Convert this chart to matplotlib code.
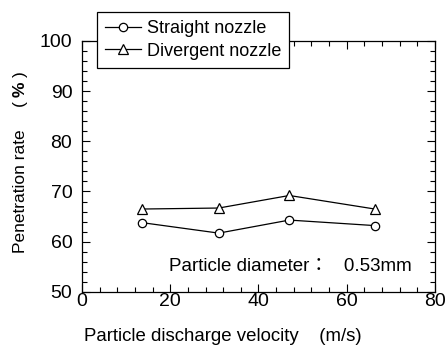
import matplotlib
matplotlib.use('Agg')
import matplotlib.pyplot as plt
from matplotlib.ticker import MultipleLocator

plt.rcParams['font.family'] = ['Liberation Sans', 'Noto Sans CJK JP', 'DejaVu Sans']
plt.rcParams['mathtext.fontset'] = 'custom'
plt.rcParams['mathtext.rm'] = 'Liberation Sans'
plt.rcParams['mathtext.bf'] = 'Liberation Sans:bold'

velocity_straight = [13.5, 31.0, 47.0, 66.4]
rate_straight = [63.8, 61.7, 64.3, 63.2]
velocity_divergent = [13.5, 31.0, 47.0, 66.4]
rate_divergent = [66.5, 66.7, 69.2, 66.5]

fig = plt.figure(figsize=(4.46, 3.47), dpi=100)
ax = fig.add_axes([0.184, 0.159, 0.791, 0.723])

ax.plot(velocity_straight, rate_straight, color='black', lw=0.9, marker='o',
        ms=6, mfc='white', mec='black', mew=0.9, label='Straight nozzle')
ax.plot(velocity_divergent, rate_divergent, color='black', lw=0.9, marker='^',
        ms=7, mfc='white', mec='black', mew=0.9, label='Divergent nozzle')

ax.set_xlim(0, 80)
ax.set_ylim(50, 100)
ax.xaxis.set_major_locator(MultipleLocator(20))
ax.xaxis.set_minor_locator(MultipleLocator(4))
ax.yaxis.set_major_locator(MultipleLocator(10))
ax.yaxis.set_minor_locator(MultipleLocator(2))
ax.tick_params(which='both', direction='in', top=True, right=True, labelsize=14, width=0.8)
ax.tick_params(which='major', length=6)
ax.tick_params(which='minor', length=3.5)
ax.tick_params(axis='x', pad=1)
ax.tick_params(axis='y', pad=7)
for s in ax.spines.values():
    s.set_linewidth(0.9)

fig.text(0.5, 0.03, 'Particle discharge velocity    (m/s)', fontsize=13.4, ha='center', va='center')
fig.text(0.045, 0.45, 'Penetration rate', rotation=90, fontsize=12.5, ha='center', va='center')
fig.text(0.045, 0.744, r'( $\mathbf{\%}$ )', rotation=90, fontsize=12.5, ha='center', va='center')

ax.text(0.935, 0.1, 'Particle diameter：   0.53mm', transform=ax.transAxes,
        ha='right', va='center', fontsize=13.5)

leg = ax.legend(loc='upper left', bbox_to_anchor=(0.042, 1.115), fontsize=13,
                frameon=True, fancybox=False, edgecolor='black', framealpha=1,
                handlelength=2.0, borderpad=0.45, labelspacing=0.3, handletextpad=0.3,
                borderaxespad=0)
leg.get_frame().set_linewidth(0.9)

fig.savefig('out.png', dpi=100)
